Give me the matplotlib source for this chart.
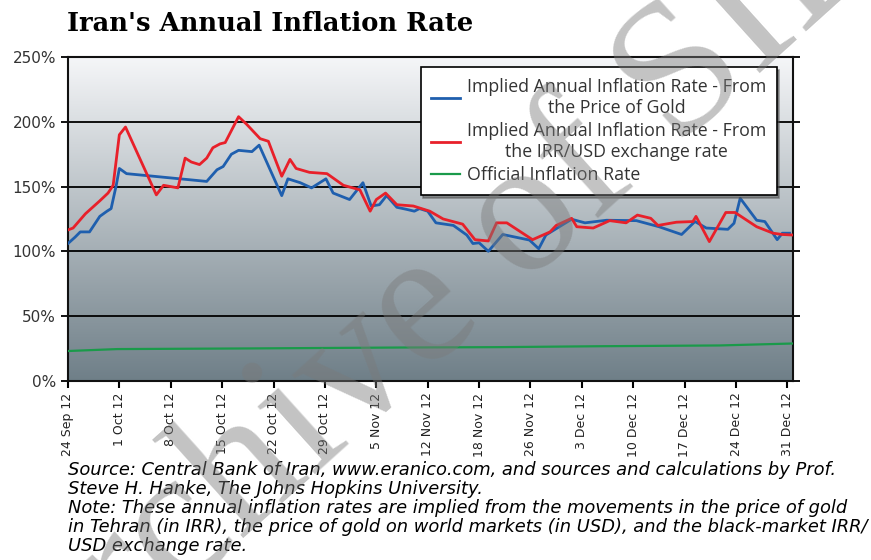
import numpy as np
import matplotlib
matplotlib.use('Agg')
import matplotlib.pyplot as plt
from matplotlib.colors import LinearSegmentedColormap

# trading-day index (tick every 5 observations)
tick_labels = ['24 Sep 12', '1 Oct 12', '8 Oct 12', '15 Oct 12', '22 Oct 12', '29 Oct 12',
               '5 Nov 12', '12 Nov 12', '18 Nov 12', '26 Nov 12', '3 Dec 12', '10 Dec 12',
               '17 Dec 12', '24 Dec 12', '31 Dec 12']

gold_x = [0.0, 0.7, 1.2, 2.1, 3.1, 3.8, 4.2, 4.7, 5.0, 5.7, 13.5, 14.5, 15.1, 15.9, 16.6,
          17.9, 18.6, 20.8, 21.4, 22.6, 23.7, 25.1, 25.8, 27.4, 28.7, 29.5, 30.3, 31.0,
          32.0, 32.9, 33.7, 34.2, 35.0, 35.8, 37.5, 38.8, 39.4, 40.0, 40.9, 42.3, 44.9,
          45.8, 46.5, 49.0, 50.3, 52.4, 55.3, 57.5, 59.7, 61.0, 62.1, 64.2, 64.8, 65.4,
          67.0, 67.8, 69.0, 69.5, 70.2]
gold_y = [106, 111, 115, 115, 127, 131, 133, 151, 164, 160, 154, 163, 165.5, 175, 178,
          177, 182, 143, 156, 153, 149, 156, 145, 140, 153, 135, 136, 143,
          134, 132.5, 131, 133, 131, 122, 120, 112.6, 106, 106.6, 100, 113, 108.7,
          102, 112.6, 124.8, 122, 124, 123.7, 119, 113, 123, 118, 117, 121.7, 141,
          124, 123, 109, 114, 114]

fx_x = [0.0, 0.5, 1.7, 3.1, 3.9, 4.4, 5.0, 5.6, 8.6, 9.3, 10.7, 11.4, 12.0, 12.8, 13.5,
        14.1, 14.8, 15.3, 16.6, 17.4, 18.7, 19.5, 20.0, 20.8, 21.6, 22.2, 23.5, 25.2,
        26.8, 28.4, 29.4, 30.0, 30.9, 32.0, 33.6, 35.2, 36.5, 38.4, 39.6, 40.9, 41.7,
        42.7, 45.2, 46.9, 47.5, 49.0, 49.5, 51.1, 52.7, 54.3, 55.4, 56.7, 57.4, 59.2,
        60.8, 61.1, 62.4, 64.0, 64.9, 67.0, 68.6, 69.5, 70.5]
fx_y = [116.5, 118, 129, 139, 145, 151, 190, 196, 143.6, 151, 149, 172, 169, 167, 172,
        180, 183, 184, 204, 198, 187, 185, 174.5, 158, 171, 164, 161, 160,
        151, 147.5, 131, 140, 145, 136, 135, 131, 125, 121, 109, 108, 122,
        122, 109, 115, 120, 125.5, 119, 118, 123.7, 122, 128, 125.5, 120, 122.5,
        123, 127, 107.5, 130, 130, 119, 114, 113, 112.6]

official_x = [0.0, 4.8, 17.7, 32.3, 42.0, 51.7, 63.4, 70.5]
official_y = [23, 24.5, 25, 25.7, 26, 26.7, 27.3, 28.8]

fig = plt.figure(figsize=(8.71, 5.6), dpi=100)
ax = fig.add_axes([0.078, 0.32, 0.832, 0.578])

# gradient background, light on top
cmap = LinearSegmentedColormap.from_list('bg', ['#f5f6f8', '#6f7f88'])
grad = np.linspace(0, 1, 256).reshape(-1, 1)
ax.imshow(grad, cmap=cmap, aspect='auto', extent=[0, 70.5, 0, 250], origin='upper', zorder=0)

ax.set_xlim(0, 70.5)
ax.set_ylim(0, 250)
for y in [50, 100, 150, 200]:
  ax.axhline(y, color='black', lw=1.3, zorder=1)

ax.plot(gold_x, gold_y, color='#1f5fae', lw=2, label='Implied Annual Inflation Rate - From\nthe Price of Gold', zorder=3)
ax.plot(fx_x, fx_y, color='#e8202a', lw=2, label='Implied Annual Inflation Rate - From\nthe IRR/USD exchange rate', zorder=3)
ax.plot(official_x, official_y, color='#1a9a4a', lw=1.6, label='Official Inflation Rate', zorder=3)

ax.set_yticks([0, 50, 100, 150, 200, 250])
ax.set_yticklabels(['0%', '50%', '100%', '150%', '200%', '250%'], fontsize=11, color='#333333')
ax.set_xticks(np.arange(0, 71, 5))
ax.set_xticklabels(tick_labels, rotation=90, fontsize=9, color='#222222')
ax.tick_params(axis='y', length=5, width=1.3, right=True)
ax.tick_params(axis='x', length=5, width=1.5)
for s in ax.spines.values():
  s.set_linewidth(1.5)
  s.set_color('#111111')

leg = ax.legend(loc='upper right', bbox_to_anchor=(0.978, 0.969), borderaxespad=0, frameon=True,
                fancybox=False, shadow=True, handlelength=1.6, borderpad=0.6, labelspacing=0.3,
                handletextpad=0.4, prop={'family': 'Open Sans', 'size': 12.8})
leg.get_frame().set_edgecolor('black')
leg.get_frame().set_linewidth(1.2)
for t in leg.get_texts():
  t.set_multialignment('center')
  t.set_color('#333333')

fig.text(0.077, 0.958, "Iran's Annual Inflation Rate", fontsize=18.5, fontweight='bold',
         family='DejaVu Serif', va='center', ha='left')

note = ('Source: Central Bank of Iran, www.eranico.com, and sources and calculations by Prof.\n'
        'Steve H. Hanke, The Johns Hopkins University.\n'
        'Note: These annual inflation rates are implied from the movements in the price of gold\n'
        'in Tehran (in IRR), the price of gold on world markets (in USD), and the black-market IRR/\n'
        'USD exchange rate.')
fig.text(0.078, 0.177, note, fontsize=12.85, style='italic', family='DejaVu Sans',
         va='top', ha='left', linespacing=1.08)

# watermark
fig.text(0.5, 0.46, 'Archive of SID', fontsize=138, family='Liberation Serif', color='#7a7a7a',
         alpha=0.45, rotation=42, ha='center', va='center', zorder=10)

fig.savefig('out.png', dpi=100)
